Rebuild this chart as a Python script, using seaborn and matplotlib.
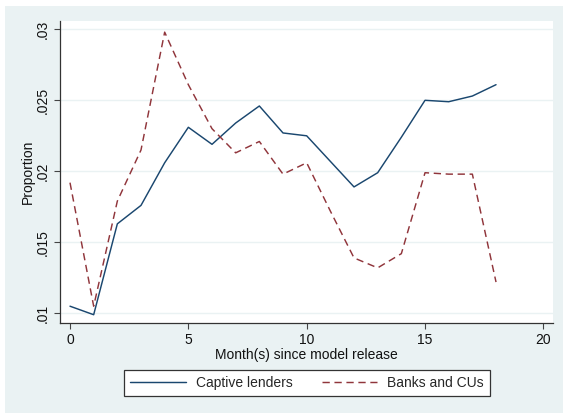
import numpy as np
import pandas as pd
import matplotlib
matplotlib.use("Agg")
import matplotlib.pyplot as plt
from matplotlib.patches import Rectangle
import seaborn as sns

months = list(range(19))
captive = [0.0105, 0.0099, 0.0163, 0.0176, 0.0206, 0.0231, 0.0219, 0.0234, 0.0246,
           0.0227, 0.0225, 0.0207, 0.0189, 0.0199, 0.0224, 0.0250, 0.0249, 0.0253, 0.0261]
banks = [0.0192, 0.0105, 0.0179, 0.0215, 0.0298, 0.0261, 0.0230, 0.0213, 0.0221,
         0.0198, 0.0206, 0.0172, 0.0139, 0.0132, 0.0142, 0.0199, 0.0198, 0.0198, 0.0122]
series_names = ["Captive lenders", "Banks and CUs"]
y_ticks = [0.01, 0.015, 0.02, 0.025, 0.03]
y_ticklabels = [".01", ".015", ".02", ".025", ".03"]
x_ticks = [0, 5, 10, 15, 20]

df = pd.DataFrame({
    "month": months * 2,
    "proportion": captive + banks,
    "group": [series_names[0]] * len(months) + [series_names[1]] * len(months),
})

sns.set_theme(style="white")
plt.rcParams["font.family"] = ["Liberation Sans", "DejaVu Sans"]

W, H = 563, 413
fig = plt.figure(figsize=(W / 100, H / 100), dpi=100, facecolor="white")
# light graph-region background, drawn beneath the axes
fig.patches.append(Rectangle((5 / W, 0), 1 - 5 / W, 1 - 6 / H, transform=fig.transFigure,
                             facecolor="#eaf2f3", edgecolor="none", zorder=-10))

ax = fig.add_axes([60 / W, 1 - 322.7 / H, (553.3 - 60) / W, (322.7 - 20.5) / H])
ax.set_zorder(1)
ax.set_facecolor("white")

navy = "#1a476f"
maroon = "#90353b"
sns.lineplot(data=df[df.group == series_names[0]], x="month", y="proportion",
             color=navy, lw=1.05, ax=ax, label=series_names[0])
sns.lineplot(data=df[df.group == series_names[1]], x="month", y="proportion",
             color=maroon, lw=1.05, ax=ax, label=series_names[1],
             linestyle=(0, (5, 3.2)))

ax.set_xlim(-0.4225, 20.42)
ax.set_ylim(0.009338, 0.03062)
ax.set_yticks(y_ticks)
ax.set_yticklabels(y_ticklabels, rotation=90, va="center")
ax.set_xticks(x_ticks)
for y in y_ticks:
    ax.axhline(y, color="#eaf2f3", lw=1.0, zorder=0)

for s in ["top", "right"]:
    ax.spines[s].set_visible(False)
for s in ["left", "bottom"]:
    ax.spines[s].set_color("#333333")
    ax.spines[s].set_linewidth(0.9)
ax.tick_params(axis="both", which="major", direction="out", length=4.5, width=0.8,
               color="#444444", labelsize=10, labelcolor="#111111", pad=3,
               left=True, bottom=True)

ax.set_xlabel("Month(s) since model release", fontsize=10, color="#111111", labelpad=0.5)
ax.set_ylabel("Proportion", fontsize=10, color="#111111", labelpad=0.5)

ax.legend_.remove()
handles, labels = ax.get_legend_handles_labels()
leg = fig.legend(handles, labels, ncol=2, loc="center",
                 bbox_to_anchor=(307 / W, 1 - 383 / H), frameon=True, fancybox=False,
                 edgecolor="#333333", facecolor="white", framealpha=1.0, fontsize=10,
                 handlelength=4.0, columnspacing=2.1, handletextpad=0.7,
                 borderpad=0.45)
leg.get_frame().set_linewidth(0.9)

fig.savefig("out.png", dpi=100, facecolor=fig.get_facecolor())
